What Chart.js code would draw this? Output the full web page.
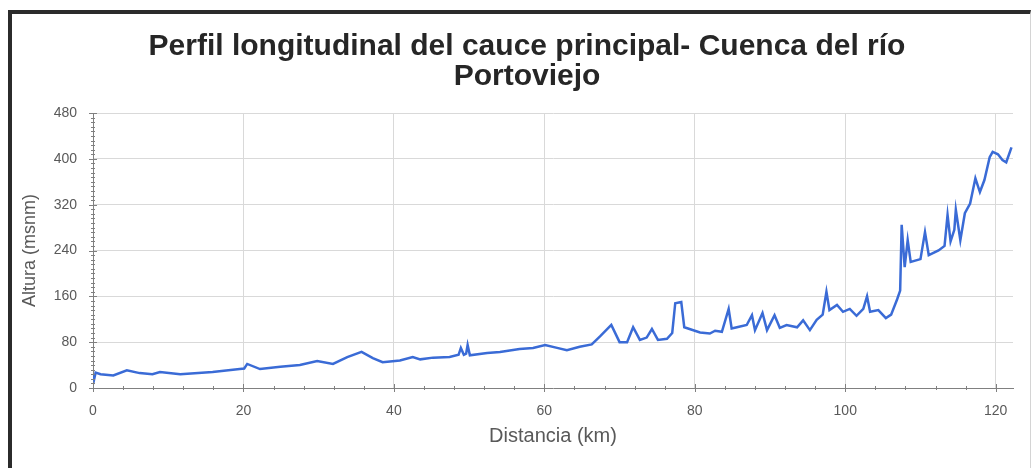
<!DOCTYPE html>
<html><head><meta charset="utf-8">
<script src="https://cdn.jsdelivr.net/npm/chart.js@4.4.1/dist/chart.umd.min.js"></script>
<style>
html,body{margin:0;padding:0;background:#fff;overflow:hidden;}
#wrap{position:relative;width:1033px;height:468px;}
#c{position:absolute;left:0;top:0;}
#frame{position:absolute;left:8px;top:10px;width:1023px;height:480px;border-top:4px solid #2b2b2b;border-left:4px solid #2b2b2b;border-right:1px solid #d4d4d4;box-sizing:border-box;pointer-events:none;}
</style></head><body>
<div id="wrap"><canvas id="c" width="1033" height="468"></canvas><div id="frame"></div></div>
<script>
const chartTitle = ['Perfil longitudinal del cauce principal- Cuenca del río', 'Portoviejo'];
const xAxisTitle = 'Distancia (km)';
const yAxisTitle = 'Altura (msnm)';

const distanciaKm = [0,0.15,0.35,1.0,2.7,4.5,6.2,7.9,8.9,11.6,
  15.9,19.5,20.1,20.5,22.2,24.9,27.5,29.8,31.9,33.8,
  35.7,37.2,38.5,40.8,42.5,43.5,45.2,47.4,48.6,48.9,
  49.3,49.6,49.8,50.1,52.4,54.1,56.7,58.5,60.1,61.7,
  63.0,64.7,66.3,67.4,68.9,70.0,71.0,71.8,72.7,73.6,
  74.3,75.1,76.3,77.0,77.4,78.2,78.6,80.7,82.0,82.7,
  83.6,84.5,84.9,85.6,86.9,87.6,88.0,89.0,89.6,90.6,
  91.3,92.2,93.6,94.4,95.3,96.2,97.0,97.5,97.9,98.9,
  99.7,100.6,101.5,102.4,102.9,103.3,104.4,105.4,106.1,106.9,
  107.3,107.5,107.9,108.3,108.7,110.0,110.6,111.1,112.4,113.2,
  113.6,114.0,114.5,114.7,115.3,115.9,116.6,117.3,117.9,118.5,
  119.2,119.6,120.3,120.9,121.4,122.1];

const alturaMsnm = [22,15,27,24,22,31,26,24,28,24,
  28,33,34,42,33,37,40,47,42,54,
  63,52,45,48,54,50,53,54,58,70,
  58,60,75,57,61,63,68,70,75,70,
  66,72,76,90,110,80,80,106,84,88,
  103,84,86,96,148,150,106,97,95,100,
  98,138,104,106,110,127,101,131,101,127,
  105,110,106,118,101,119,128,168,136,145,
  133,138,126,138,160,133,136,122,128,155,
  170,285,211,258,220,225,272,232,240,248,
  302,256,276,311,258,305,322,366,342,363,
  403,412,408,398,394,420];

const xTickValues = [0,20,40,60,80,100,120];
const yTickValues = [0,80,160,240,320,400,480];

const FONT = "'Liberation Sans', Arial, sans-serif";

const crossTicks = {
  id: 'crossTicks',
  afterDatasetsDraw(chart) {
    const {ctx, chartArea, scales: {x, y}} = chart;
    ctx.save();
    ctx.strokeStyle = '#808080';
    ctx.lineWidth = 1;
    for (let v = 0; v <= 480; v += 8) {
      const py = Math.round(y.getPixelForValue(v)) + 0.5;
      const len = (v % 80 === 0) ? 4 : 2;
      ctx.beginPath(); ctx.moveTo(chartArea.left - len, py); ctx.lineTo(chartArea.left + len, py); ctx.stroke();
    }
    for (let v = 0; v <= 120; v += 4) {
      const px = Math.round(x.getPixelForValue(v)) + 0.5;
      const len = (v % 20 === 0) ? 4 : 2;
      ctx.beginPath(); ctx.moveTo(px, chartArea.bottom - len); ctx.lineTo(px, chartArea.bottom + len); ctx.stroke();
    }
    ctx.restore();
  }
};

new Chart(document.getElementById('c'), {
  type: 'scatter',
  data: {
    datasets: [{
      data: distanciaKm.map((d, i) => ({x: d, y: alturaMsnm[i]})),
      showLine: true,
      borderColor: '#3a6bd6',
      borderWidth: 2.5,
      pointRadius: 0,
      tension: 0,
      fill: false
    }]
  },
  options: {
    responsive: false,
    animation: false,
    layout: {padding: {left: 41, right: 20, top: 20, bottom: 16}},
    plugins: {
      legend: {display: false},
      tooltip: {enabled: false},
      title: {
        display: true,
        text: chartTitle,
        color: '#262626',
        font: {family: FONT, size: 30, weight: 'bold', lineHeight: 1.0},
        padding: {top: 12, bottom: 21}
      }
    },
    scales: {
      x: {
        type: 'linear',
        min: 0, max: 122.3,
        afterFit(s) { s.height = 64; },
        afterBuildTicks(s) { s.ticks = xTickValues.map(v => ({value: v})); },
        ticks: {color: '#595959', font: {family: FONT, size: 14}, padding: 15, maxRotation: 0},
        grid: {color: '#d9d9d9', lineWidth: 1, drawTicks: false},
        border: {display: true, color: '#808080', width: 1},
        title: {display: true, text: xAxisTitle, color: '#595959', font: {family: FONT, size: 20}, padding: {top: 4, bottom: 4}}
      },
      y: {
        type: 'linear',
        min: 0, max: 480,
        afterFit(s) { s.width = 52; },
        afterBuildTicks(s) { s.ticks = yTickValues.map(v => ({value: v})); },
        ticks: {color: '#595959', font: {family: FONT, size: 14}, padding: 16},
        grid: {color: (c) => c.tick && c.tick.value === 0 ? 'rgba(0,0,0,0)' : '#d9d9d9', lineWidth: 1, drawTicks: false},
        border: {display: true, color: '#808080', width: 1},
        title: {display: true, text: yAxisTitle, color: '#595959', font: {family: FONT, size: 18}, padding: {top: -22, bottom: 4}}
      }
    }
  },
  plugins: [crossTicks]
});
</script>
</body></html>
